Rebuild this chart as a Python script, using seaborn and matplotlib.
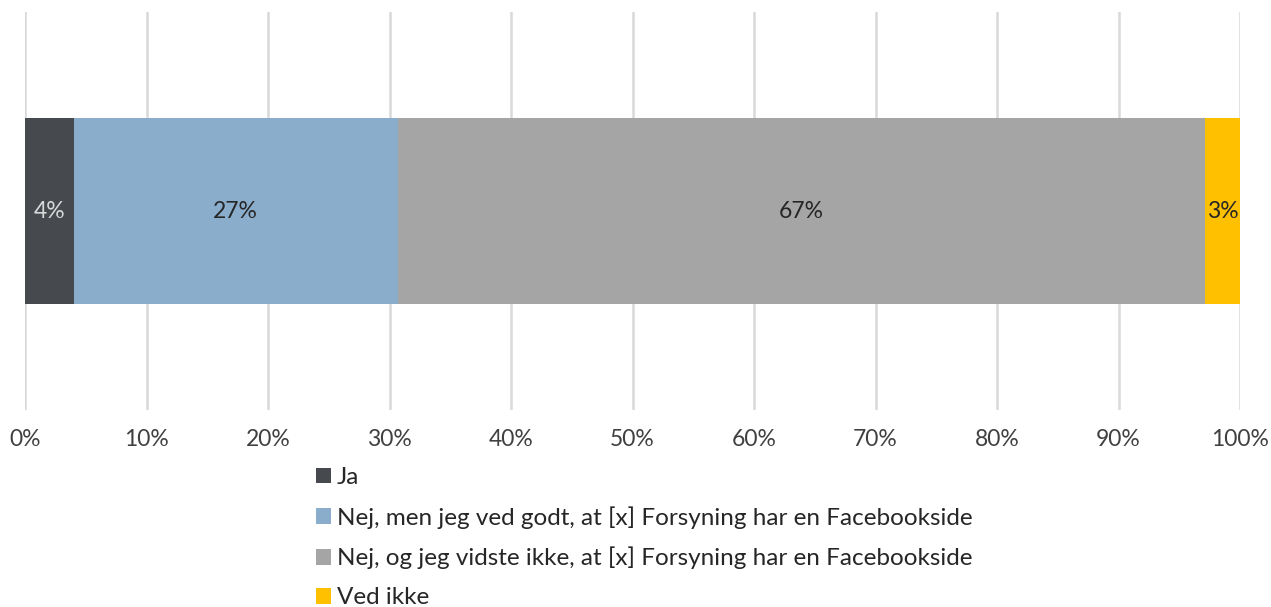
import numpy as np
import pandas as pd
import matplotlib
matplotlib.use("Agg")
import matplotlib.pyplot as plt
import seaborn as sns
from matplotlib.patches import Patch

# data
categories = [
    "Ja",
    "Nej, men jeg ved godt, at [x] Forsyning har en Facebookside",
    "Nej, og jeg vidste ikke, at [x] Forsyning har en Facebookside",
    "Ved ikke",
]
values = [4.0, 26.7, 66.4, 2.9]
value_labels = ["4%", "27%", "67%", "3%"]
colors = ["#464a4f", "#8badcc", "#a5a5a5", "#ffc000"]
label_colors = ["#d9d9d9", "#262626", "#262626", "#262626"]
ticks = list(range(0, 101, 10))

sns.set_theme(style="white")
plt.rcParams["font.family"] = ["Lato", "DejaVu Sans"]

fig = plt.figure(figsize=(12.71, 6.07), dpi=100)
ax = fig.add_axes([25 / 1271, 1 - 410 / 607, 1215 / 1271, 398 / 607])

cum = np.cumsum(values)
df = pd.DataFrame({"cat": categories, "end": cum, "color": colors})

# stacked bar: draw cumulative ends from the largest down
for i in range(len(values) - 1, -1, -1):
    sns.barplot(x=[df["end"][i]], y=[""], orient="h", color=df["color"][i],
                width=0.8, saturation=1, linewidth=0, ax=ax, zorder=2)

for i, (v, c) in enumerate(zip(values, cum)):
    ax.text(c - v / 2, 0, value_labels[i], ha="center", va="center",
            fontsize=16.5, color=label_colors[i], zorder=3)

ax.set_xlim(0, 100)
ax.set_ylim(0.86, -0.86)
ax.set_xticks(ticks)
ax.set_xticklabels([f"{t}%" for t in ticks], fontsize=16.5, color="#404040")
ax.set_yticks([])
ax.set_xlabel("")
ax.set_ylabel("")
ax.tick_params(axis="x", length=0, pad=14)
ax.grid(axis="x", color="#d9d9d9", linewidth=1.8, zorder=0)
ax.set_axisbelow(True)
for s in ax.spines.values():
    s.set_visible(False)

handles = [Patch(facecolor=c, edgecolor="none") for c in colors]
leg = fig.legend(handles, categories, loc="upper left",
                 bbox_to_anchor=(304 / 1271, 1 - 455 / 607), frameon=False,
                 labelspacing=0.74, handlelength=0.6, handleheight=0.6,
                 handletextpad=0.25, borderpad=0, prop={"size": 17.5})
for t in leg.get_texts():
    t.set_color("#262626")

fig.savefig("out.png", dpi=100)
